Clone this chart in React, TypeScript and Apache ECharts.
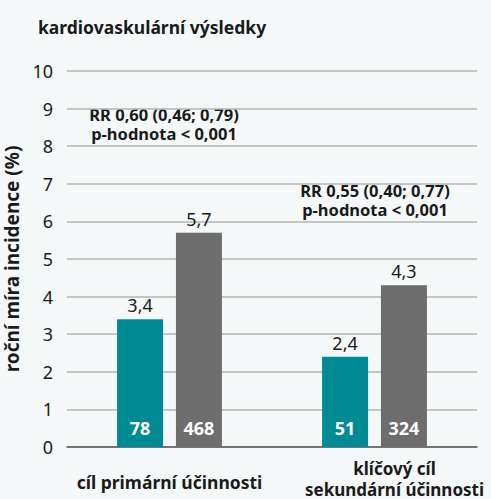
import React, { useEffect, useRef } from "react";
import * as echarts from "echarts";

const categories = ["cíl primární účinnosti", "klíčový cíl\nsekundární účinnosti"];
const tealValues = [3.4, 2.4];
const grayValues = [5.7, 4.3];
const tealCounts = ["78", "51"];
const grayCounts = ["468", "324"];
const yTicks = [0, 1, 2, 3, 4, 5, 6, 7, 8, 9, 10];
const annotations = [
  ["RR 0,60 (0,46; 0,79)", "p-hodnota < 0,001"],
  ["RR 0,55 (0,40; 0,77)", "p-hodnota < 0,001"],
];

const FONT = "'Noto Sans', sans-serif";
const TEAL = "#008b94";
const GRAY = "#6d6d6d";
const TXT = "#1a1a1a";

export default function App() {
  const ref = useRef<HTMLDivElement>(null);
  useEffect(() => {
    if (!ref.current) return;
    const chart = echarts.init(ref.current, null, { renderer: "svg" });
    const barCommon = { barWidth: 46, barGap: "28%" };
    const xAxisBase = {
      type: "category",
      data: categories,
      axisTick: { show: false },
    };
    const valueLabel = {
      show: true,
      position: "top",
      distance: 5,
      fontFamily: FONT,
      fontSize: 18,
      color: TXT,
      formatter: (p: any) => String(p.value).replace(".", ","),
    };
    const countLabel = (counts: string[]) => ({
      show: true,
      position: "insideBottom",
      distance: 10,
      fontFamily: FONT,
      fontSize: 18,
      fontWeight: "bold",
      color: "#ffffff",
      formatter: (p: any) => counts[p.dataIndex],
    });
    chart.setOption({
      animation: false,
      backgroundColor: "#f5f8f8",
      textStyle: { fontFamily: FONT },
      grid: { left: 67, right: 14, top: 71, bottom: 52, outerBoundsMode: "none", containLabel: false },
      title: {
        text: "kardiovaskulární výsledky",
        left: 33,
        top: 13,
        textStyle: { fontFamily: FONT, fontSize: 17.5, fontWeight: "bold", color: TXT },
      },
      xAxis: [
        {
          ...xAxisBase,
          axisLine: { show: true, lineStyle: { color: "#5a5a5a", width: 1.5 } },
          axisLabel: {
            interval: 0,
            margin: 11,
            fontFamily: FONT,
            fontSize: 17,
            fontWeight: "bold",
            color: TXT,
            lineHeight: 21,
            formatter: (v: string, i: number) =>
              i === 0 ? `{a|${v}}` : v.split("\n").map((s) => `{b|${s}}`).join("\n"),
            rich: {
              a: { fontFamily: FONT, fontSize: 17.5, fontWeight: "bold", color: TXT, lineHeight: 21, padding: [26, 0, 0, 0] },
              b: { fontFamily: FONT, fontSize: 17, fontWeight: "bold", color: TXT, lineHeight: 21, padding: [0, 0, 0, 40] },
            },
          },
        },
        { ...xAxisBase, show: false },
      ],
      yAxis: {
        type: "value",
        min: yTicks[0],
        max: yTicks[yTicks.length - 1],
        interval: 1,
        name: "roční míra incidence (%)",
        nameLocation: "middle",
        nameGap: 38,
        nameTextStyle: { fontFamily: FONT, fontSize: 19, fontWeight: "bold", color: TXT },
        axisLabel: { margin: 14, fontFamily: FONT, fontSize: 18, color: TXT },
        axisLine: { show: false },
        axisTick: { show: false },
        splitLine: { lineStyle: { color: "#b5b5b5", width: 1.5 } },
      },
      series: [
        {
          type: "bar",
          xAxisIndex: 0,
          data: tealValues,
          itemStyle: { color: TEAL },
          ...barCommon,
          label: valueLabel,
        },
        {
          type: "bar",
          xAxisIndex: 0,
          data: grayValues,
          itemStyle: { color: GRAY },
          ...barCommon,
          label: valueLabel,
        },
        {
          type: "bar",
          xAxisIndex: 1,
          data: tealValues,
          itemStyle: { color: "transparent" },
          ...barCommon,
          silent: true,
          label: countLabel(tealCounts),
        },
        {
          type: "bar",
          xAxisIndex: 1,
          data: grayValues,
          itemStyle: { color: "transparent" },
          ...barCommon,
          silent: true,
          label: countLabel(grayCounts),
        },
      ],
      graphic: annotations.flatMap((lines, gi) =>
        lines.map((t, li) => ({
          type: "text",
          x: gi === 0 ? 164 : 375,
          y: (gi === 0 ? 106 : 182) + li * 19,
          style: {
            text: t,
            align: "center",
            fontFamily: FONT,
            fontSize: 16.5,
            fontWeight: "bold",
            fill: TXT,
          },
        }))
      ),
    });
    return () => chart.dispose();
  }, []);
  return <div ref={ref} style={{ position: "fixed", left: 0, top: 0, width: 491, height: 499 }} />;
}
